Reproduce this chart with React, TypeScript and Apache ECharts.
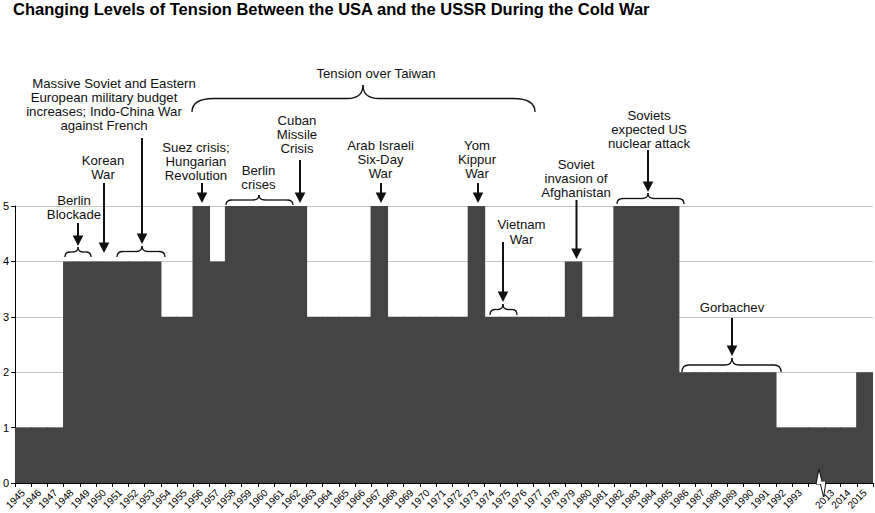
import React, { useEffect, useRef } from "react";
import * as echarts from "echarts";

const years = [
  "1945", "1946", "1947", "1948", "1949", "1950", "1951", "1952", "1953", "1954",
  "1955", "1956", "1957", "1958", "1959", "1960", "1961", "1962", "1963", "1964",
  "1965", "1966", "1967", "1968", "1969", "1970", "1971", "1972", "1973", "1974",
  "1975", "1976", "1977", "1978", "1979", "1980", "1981", "1982", "1983", "1984",
  "1985", "1986", "1987", "1988", "1989", "1990", "1991", "1992", "1993", "",
  "2013", "2014", "2015",
];

const tension = [
  1, 1, 1, 4, 4, 4, 4, 4, 4, 3,
  3, 5, 4, 5, 5, 5, 5, 5, 3, 3,
  3, 3, 5, 3, 3, 3, 3, 3, 5, 3,
  3, 3, 3, 3, 4, 3, 3, 5, 5, 5,
  5, 2, 2, 2, 2, 2, 2, 1, 1, 1,
  1, 1, 2,
];

const yTicks = [0, 1, 2, 3, 4, 5];

const FONT = '"Liberation Sans", Arial, sans-serif';
const INK = "#111";

type Note = { text: string; x: number; y: number; lh?: number };
const notes: Note[] = [
  { text: "Massive Soviet and Eastern", x: 114, y: 83 },
  { text: "European military budget\nincreases; Indo-China War\nagainst French", x: 104, y: 97 },
  { text: "Korean\nWar", x: 103, y: 160, lh: 14.5 },
  { text: "Berlin\nBlockade", x: 74, y: 200 },
  { text: "Suez crisis;\nHungarian\nRevolution", x: 196, y: 147 },
  { text: "Berlin\ncrises", x: 258.5, y: 170 },
  { text: "Cuban\nMissile\nCrisis", x: 297, y: 120 },
  { text: "Tension over Taiwan", x: 376, y: 73 },
  { text: "Arab Israeli\nSix-Day\nWar", x: 380.5, y: 145 },
  { text: "Yom\nKippur\nWar", x: 477, y: 145 },
  { text: "Soviet\ninvasion of\nAfghanistan", x: 576, y: 164 },
  { text: "Soviets\nexpected US\nnuclear attack", x: 649, y: 115 },
  { text: "Vietnam\nWar", x: 521.5, y: 224, lh: 15 },
  { text: "Gorbachev", x: 732, y: 307 },
];

// x, shaft top, tip
const arrows: [number, number, number][] = [
  [78, 223, 246],
  [104, 183, 253],
  [142, 138, 244],
  [202, 183, 203],
  [300, 160, 203],
  [381, 183, 203],
  [478, 183, 203],
  [576.5, 200, 259],
  [648, 150, 192],
  [503, 242, 302],
  [732, 318, 356],
];

// x0, x1, xc, yTip, yEnd, rEnd, rTip
const braces: [number, number, number, number, number, number, number][] = [
  [65, 91, 78, 247, 257, 5, 5],
  [117, 165, 142, 246, 257, 6, 6],
  [226, 293, 259, 195, 205, 6, 6],
  [192, 535, 363, 85, 112, 22, 16],
  [617, 684, 648, 193, 204, 6, 6],
  [490, 517, 503, 304, 315, 5, 5],
  [682, 781, 732, 358, 372, 7, 7],
];

function buildGraphics() {
  const els: any[] = [];
  notes.forEach((n) => {
    const lh = n.lh ?? 14.2;
    els.push({
      type: "text",
      z: 100,
      style: {
        text: n.text,
        x: n.x,
        y: n.y - lh / 2,
        textAlign: "center",
        textVerticalAlign: "top",
        font: `13.2px ${FONT}`,
        lineHeight: lh,
        fill: INK,
      },
    });
  });
  arrows.forEach(([x, y1, tip]) => {
    els.push({
      type: "line",
      z: 100,
      shape: { x1: x, y1, x2: x, y2: tip - 8 },
      style: { stroke: INK, lineWidth: 2 },
    });
    els.push({
      type: "polygon",
      z: 100,
      shape: { points: [[x - 5.3, tip - 10.5], [x + 5.3, tip - 10.5], [x, tip]] },
      style: { fill: INK },
    });
  });
  braces.forEach(([x0, x1, xc, yT, yE, rE, rT]) => {
    const yM = (yT + yE) / 2;
    const st = { stroke: INK, lineWidth: 1.3, fill: null };
    els.push({ type: "bezierCurve", z: 100, shape: { x1: x0, y1: yE, cpx1: x0, cpy1: yM, x2: x0 + rE, y2: yM }, style: st });
    els.push({ type: "line", z: 100, shape: { x1: x0 + rE, y1: yM, x2: xc - rT, y2: yM }, style: st });
    els.push({ type: "bezierCurve", z: 100, shape: { x1: xc - rT, y1: yM, cpx1: xc, cpy1: yM, x2: xc, y2: yT }, style: st });
    els.push({ type: "bezierCurve", z: 100, shape: { x1: xc, y1: yT, cpx1: xc, cpy1: yM, x2: xc + rT, y2: yM }, style: st });
    els.push({ type: "line", z: 100, shape: { x1: xc + rT, y1: yM, x2: x1 - rE, y2: yM }, style: st });
    els.push({ type: "bezierCurve", z: 100, shape: { x1: x1 - rE, y1: yM, cpx1: x1, cpy1: yM, x2: x1, y2: yE }, style: st });
  });
  // axis break marker
  els.push({
    type: "polygon",
    z: 100,
    shape: { points: [[816, 484], [819, 469], [822.5, 484]] },
    style: { fill: "#fff", stroke: INK, lineWidth: 1 },
  });
  els.push({
    type: "polygon",
    z: 100,
    shape: { points: [[820, 482], [823.5, 497], [826, 482]] },
    style: { fill: "#fff", stroke: INK, lineWidth: 1 },
  });
  els.push({
    type: "rect",
    z: 101,
    shape: { x: 817, y: 481.5, width: 8, height: 2.5 },
    style: { fill: "#fff" },
  });
  return els;
}

export default function App() {
  const ref = useRef<HTMLDivElement>(null);
  useEffect(() => {
    if (!ref.current) return;
    const chart = echarts.init(ref.current, null, { renderer: "svg" });
    chart.setOption({
      animation: false,
      backgroundColor: "#fff",
      title: {
        text: "Changing Levels of Tension Between the USA and the USSR During the Cold War",
        left: 13,
        top: 0,
        padding: 0,
        textStyle: { fontFamily: FONT, fontSize: 16.5, fontWeight: "bold", color: "#000" },
      },
      grid: { left: 15, right: 2, top: 206, bottom: 30, containLabel: false },
      xAxis: {
        type: "category",
        data: years,
        boundaryGap: true,
        axisLine: { lineStyle: { color: "#000", width: 1 } },
        axisTick: { show: true, alignWithLabel: false, length: 4, lineStyle: { color: "#000" } },
        axisLabel: {
          interval: 0,
          rotate: 45,
          fontFamily: FONT,
          fontSize: 10,
          color: "#000",
          margin: 8,
        },
        splitLine: { show: false },
        splitArea: { show: false },
      },
      yAxis: {
        type: "value",
        min: yTicks[0],
        max: yTicks[yTicks.length - 1],
        interval: 1,
        axisLine: { show: true, lineStyle: { color: "#000", width: 1 } },
        axisTick: { show: true, length: 4, lineStyle: { color: "#000" } },
        axisLabel: { fontFamily: FONT, fontSize: 11, color: "#000", margin: 6 },
        splitLine: { show: true, lineStyle: { color: "#c4c4c4", width: 1 } },
      },
      series: [
        {
          type: "bar",
          data: tension,
          barWidth: "108%",
          barGap: "0%",
          itemStyle: { color: "#444444", borderWidth: 0 },
          silent: true,
        },
      ],
      graphic: buildGraphics(),
    });
    return () => chart.dispose();
  }, []);
  return (
    <div
      ref={ref}
      style={{ position: "fixed", left: 0, top: 0, width: 875, height: 513 }}
    />
  );
}
